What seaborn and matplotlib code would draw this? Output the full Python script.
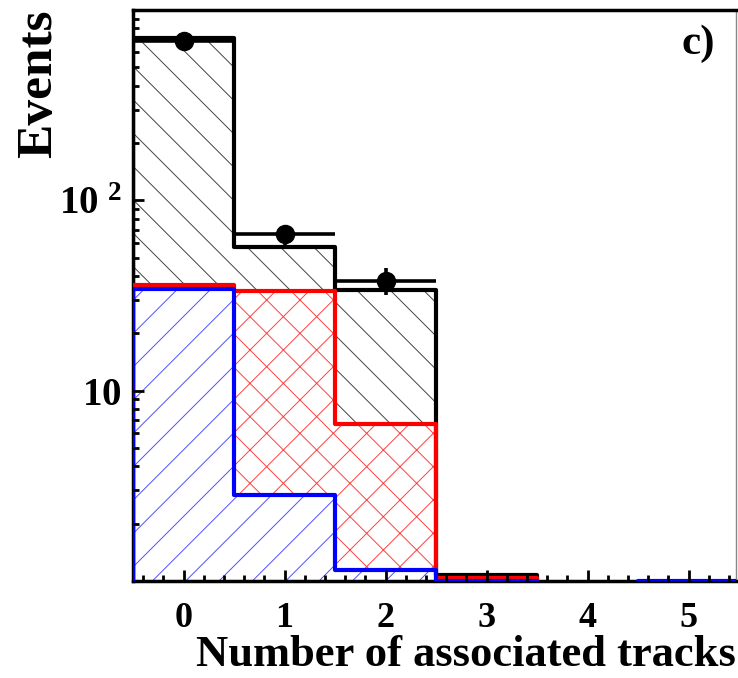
import numpy as np
import pandas as pd
import matplotlib
matplotlib.use("Agg")
import matplotlib.pyplot as plt
import matplotlib.ticker as mticker
import seaborn as sns

# ---------------- data ----------------
tracks = [0, 1, 2, 3, 4, 5]
bin_edges = [-0.5, 0.5, 1.5, 2.5, 3.5, 4.5, 5.5]
total_mc = [713, 56.6, 33.6, 1.08, 0, 0]        # black histogram
red_mc = [35.7, 33.4, 6.7, 1.04, 0, 0]          # red histogram
blue_mc = [34.4, 2.84, 1.14, 1.0, 0, 1.0]       # blue histogram
data_x = [0, 1, 2]
data_y = [687, 66.3, 37.9]
data_err = [26, 8.1, 6.2]
xtick_labels = ["0", "1", "2", "3", "4", "5"]

sns.set_theme(style="ticks")
plt.rcParams["font.family"] = ["Liberation Serif", "DejaVu Serif"]
plt.rcParams["font.weight"] = "bold"
plt.rcParams["mathtext.fontset"] = "custom"
plt.rcParams["mathtext.rm"] = "Liberation Serif:bold"
plt.rcParams["mathtext.bf"] = "Liberation Serif:bold"
plt.rcParams["hatch.linewidth"] = 0.7
plt.rcParams["axes.axisbelow"] = False
for k in ["text.color", "axes.labelcolor", "xtick.color", "ytick.color"]:
    plt.rcParams[k] = "black"

df = pd.DataFrame({"tracks": tracks, "total": total_mc, "red": red_mc, "blue": blue_mc})

fig = plt.figure(figsize=(7.38, 6.78), dpi=100)
ax = fig.add_axes([133 / 738, 1 - 581 / 678, (736 - 133) / 738, (581 - 10) / 678])
ax.set_yscale("log")

specs = [
    ("total", "#000000", "#444444", "\\"),
    ("red", "#ff0000", "#ff4040", "x"),
    ("blue", "#0000ff", "#5050ff", "/"),
]
# hatched fills
for i, (col, lc, hc, hatch) in enumerate(specs):
    sns.histplot(data=df, x="tracks", weights=col, bins=bin_edges, element="step",
                 fill=True, color=hc, facecolor="white", edgecolor=hc, linewidth=0,
                 hatch=hatch, ax=ax, zorder=0.5 + i * 0.1)
# outlines
for i, (col, lc, hc, hatch) in enumerate(specs):
    sns.histplot(data=df, x="tracks", weights=col, bins=bin_edges, element="step",
                 fill=True, color=lc, facecolor="none", edgecolor=lc, linewidth=3.0,
                 ax=ax, zorder=3 + i * 0.1)

# data points
ax.errorbar(data_x, data_y, xerr=0.5, yerr=data_err, fmt="o", color="black",
            ms=13, elinewidth=2.6, capsize=0, zorder=5)

ax.set_xlim(-0.5, 5.47)
ax.set_ylim(1, 1000)

ax.xaxis.set_major_locator(mticker.FixedLocator(tracks))
ax.xaxis.set_major_formatter(mticker.FixedFormatter(xtick_labels))
ax.xaxis.set_minor_locator(mticker.MultipleLocator(0.2))
ax.yaxis.set_major_locator(mticker.FixedLocator([10, 100]))
ax.yaxis.set_major_formatter(mticker.FixedFormatter([r"$\mathbf{10}$", r"$\mathbf{10^{\ 2}}$"]))
ax.yaxis.set_minor_locator(mticker.FixedLocator(
    [2, 3, 4, 5, 6, 7, 8, 9, 20, 30, 40, 50, 60, 70, 80, 90, 200, 300, 400, 500, 600, 700, 800, 900]))
ax.yaxis.set_minor_formatter(mticker.NullFormatter())

ax.tick_params(axis="both", which="both", direction="in", color="black",
               bottom=True, left=True, top=False, right=False)
ax.tick_params(axis="both", which="major", length=8, width=2)
ax.tick_params(axis="both", which="minor", length=4.5, width=2)
ax.tick_params(axis="x", which="major", labelsize=26, pad=15)
ax.tick_params(axis="y", which="major", labelsize=28, pad=8)
ax.xaxis.set_zorder(3.5)
ax.yaxis.set_zorder(3.5)

for s in ["left", "bottom", "top"]:
    ax.spines[s].set_color("black")
    ax.spines[s].set_linewidth(2.5)
ax.spines["right"].set_color("#888888")
ax.spines["right"].set_linewidth(1.0)

ax.set_xlabel("Number of associated tracks", fontsize=32, fontweight="bold", loc="right")
ax.xaxis.set_label_coords(1.0, -0.095)
ax.set_ylabel("Events", fontsize=37, fontweight="bold", loc="top")
ax.yaxis.set_label_coords(-0.118, 1.0)

ax.text(0.965, 0.94, "c)", transform=ax.transAxes, ha="right", va="center",
        fontsize=31, fontweight="bold")

# force tick creation after a first draw so y ticks are rendered
fig.canvas.draw()
for axis in (ax.xaxis, ax.yaxis):
    for t in axis.get_major_ticks():
        t.tick1line.set_visible(True)
        t.tick1line.set_color("black")
    for t in axis.get_minor_ticks():
        t.tick1line.set_visible(True)
        t.tick1line.set_color("black")

fig.savefig("out.png", dpi=100)
